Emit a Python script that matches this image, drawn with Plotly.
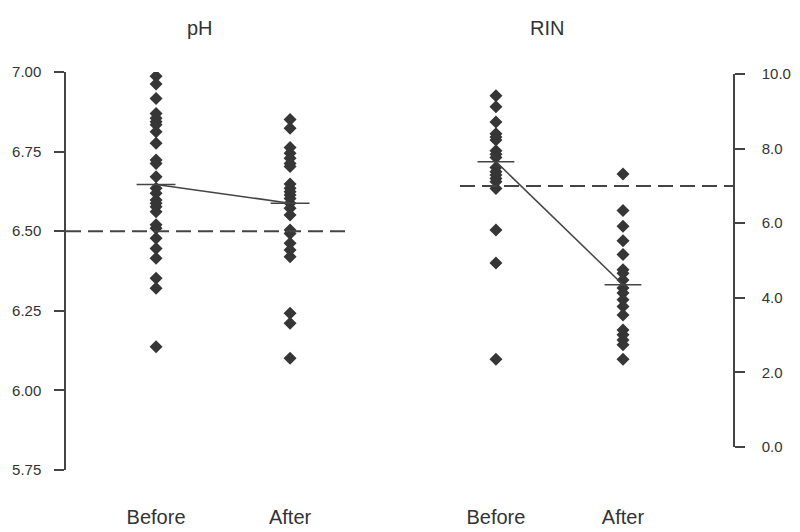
import plotly.graph_objects as go

# ---- data ----
groups = ["Before", "After"]

ph_before = [6.987, 6.962, 6.917, 6.870, 6.855, 6.844, 6.834, 6.812, 6.776, 6.724,
             6.713, 6.671, 6.635, 6.619, 6.598, 6.588, 6.577, 6.561, 6.520, 6.509,
             6.478, 6.446, 6.415, 6.352, 6.321, 6.137]
ph_after = [6.851, 6.823, 6.763, 6.745, 6.729, 6.713, 6.703, 6.648, 6.635, 6.624,
            6.614, 6.603, 6.588, 6.572, 6.551, 6.504, 6.493, 6.462, 6.441, 6.420,
            6.242, 6.211, 6.101]
ph_means = [6.647, 6.588]
ph_ref = 6.50

rin_before = [9.42, 9.12, 8.71, 8.40, 8.31, 8.23, 7.94, 7.85, 7.76, 7.49, 7.38,
              7.29, 7.20, 7.11, 6.93, 5.82, 4.93, 2.35]
rin_after = [7.32, 6.34, 5.92, 5.53, 5.16, 4.75, 4.66, 4.48, 4.26, 4.13, 3.95,
             3.77, 3.54, 3.14, 3.01, 2.87, 2.74, 2.35]
rin_means = [7.65, 4.35]
rin_ref = 7.0

ph_ticks = [5.75, 6.00, 6.25, 6.50, 6.75, 7.00]
rin_ticks = [0, 2, 4, 6, 8, 10]

# ---- styling ----
DARK = "#363636"
LINE = "#444444"
TXT = "#333333"
FONT = "Arial, Liberation Sans, sans-serif"
HALF = 0.145

fig = go.Figure()

def add_panel(xa, ya, before, after, means, ref):
    for i, vals in enumerate([before, after]):
        fig.add_trace(go.Scatter(
            x=[i] * len(vals), y=vals, mode="markers", xaxis=xa, yaxis=ya,
            marker=dict(symbol="diamond", size=10, color=DARK, line=dict(width=0)),
            showlegend=False, hoverinfo="y"))
        fig.add_trace(go.Scatter(
            x=[i - HALF, i + HALF], y=[means[i], means[i]], mode="lines",
            xaxis=xa, yaxis=ya, line=dict(color=LINE, width=1.5),
            showlegend=False, hoverinfo="skip"))
    fig.add_trace(go.Scatter(
        x=[0, 1], y=means, mode="lines", xaxis=xa, yaxis=ya,
        line=dict(color=LINE, width=1.5), showlegend=False, hoverinfo="skip"))
    fig.add_shape(type="line", xref=f"{xa} domain", yref=ya, x0=0, x1=1,
                  y0=ref, y1=ref, line=dict(color=LINE, width=2, dash="15px,7px"))

add_panel("x", "y", ph_before, ph_after, ph_means, ph_ref)
add_panel("x2", "y2", rin_before, rin_after, rin_means, rin_ref)

W, H = 800, 532
xcommon = dict(showline=False, showgrid=False, zeroline=False, ticks="",
               tickvals=[0, 1], ticktext=groups, anchor="free", position=0.055,
               automargin=False,
               tickfont=dict(size=20, color=TXT, family=FONT), fixedrange=True)
ycommon = dict(showline=True, linecolor=LINE, linewidth=1.5, showgrid=False,
               zeroline=False, ticks="outside", ticklen=10, tickwidth=1.5,
               automargin=False,
               tickcolor=LINE, tickfont=dict(size=15, color=TXT, family=FONT),
               fixedrange=True)

fig.update_layout(
    width=W, height=H, autosize=False,
    margin=dict(l=0, r=0, t=0, b=0, pad=0, autoexpand=False),
    paper_bgcolor="white", plot_bgcolor="white",
    font=dict(family=FONT, color=TXT),
    xaxis=dict(domain=[66 / W, 345 / W], range=[-0.672, 1.41], **xcommon),
    xaxis2=dict(domain=[460 / W, 733 / W], range=[-0.283, 1.866], **xcommon),
    yaxis=dict(domain=[1 - 470 / H, 1 - 72 / H], range=[5.75, 7.00],
               tickvals=ph_ticks, tickformat=".2f", anchor="x", side="left",
               ticklabelstandoff=10, **ycommon),
    yaxis2=dict(domain=[1 - 447 / H, 1 - 74 / H], range=[0, 10],
                tickvals=rin_ticks, tickformat=".1f", anchor="x2", side="right",
                ticklabelstandoff=14, **ycommon),
    annotations=[
        dict(text="pH", x=200 / W, y=1 - 28 / H, xref="paper", yref="paper",
             xanchor="center", yanchor="middle",
             showarrow=False, font=dict(size=20, color=TXT, family=FONT)),
        dict(text="RIN", x=547 / W, y=1 - 28 / H, xref="paper", yref="paper",
             xanchor="center", yanchor="middle",
             showarrow=False, font=dict(size=20, color=TXT, family=FONT)),
    ],
)

fig.write_html("out.html", config={"displayModeBar": False},
               post_script="document.body.style.margin='0';")
